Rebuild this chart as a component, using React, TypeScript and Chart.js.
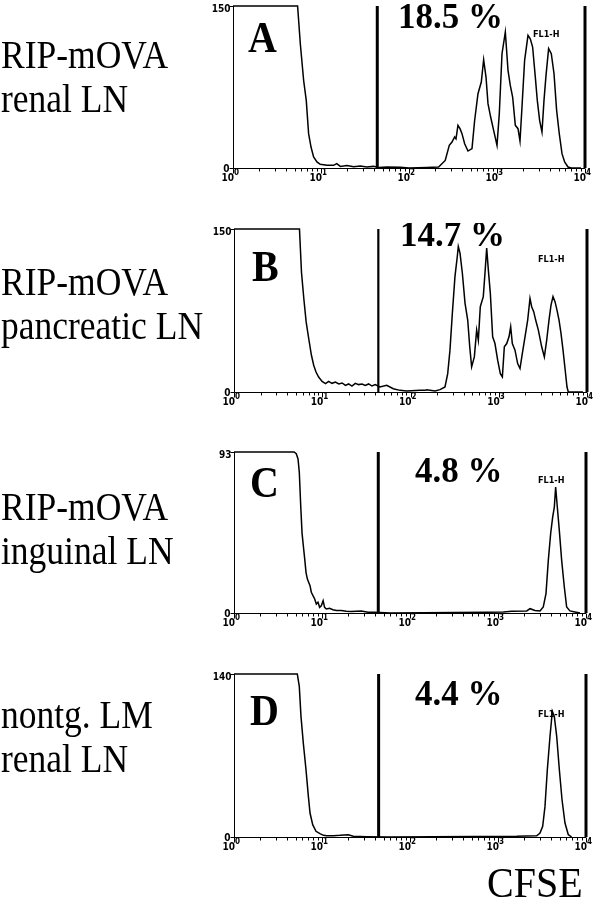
import React, { useEffect, useRef } from "react";
import { Chart, registerables } from "chart.js";

Chart.register(...registerables);

// ---------------- data ----------------
const rowLabels: string[][] = [
  ["RIP-mOVA", "renal LN"],
  ["RIP-mOVA", "pancreatic LN"],
  ["RIP-mOVA", "inguinal LN"],
  ["nontg. LM", "renal LN"],
];
const panelLetters = ["A", "B", "C", "D"];
const percentLabels = ["18.5 %", "14.7 %", "4.8 %", "4.4 %"];
const yMaxValues = [150, 150, 93, 140];
const gateValues = [43.6, 43.2, 43.6, 44];
const channelLabel = "FL1-H";
const axisTitle = "CFSE";
const decadeExponents = [0, 1, 2, 3, 4];
const xMin = 1;
const xMax = 10000;

// [CFSE channel value, cell count]
const histA: [number, number][] = [
  [1, 150], [5.42, 150], [5.82, 115], [6.35, 81], [6.8, 62.6], [7.23, 31.8], [7.7, 19.4],
  [8.24, 10.2], [9.0, 5.6], [9.8, 3.4], [11.7, 2.5], [13.9, 2.5], [15.1, 4], [16.6, 1.5],
  [19.7, 2.2], [23.5, 1.2], [28, 1.8], [33.1, 1], [39.6, 1.5], [45, 0.5], [56, 1], [79.6, 0.8],
  [100, 0], [160, 0.5], [217, 0.9], [258, 7], [287, 21], [308, 24], [330, 28.7], [342, 27],
  [360, 39.5], [380, 36.4], [400, 31.8], [429, 22.5], [468, 15.7], [520, 17.9], [557, 44],
  [608, 68.8], [663, 79.6], [705, 100.3], [750, 84.2], [790, 59.6], [847, 47.2], [916, 34.9],
  [1000, 21], [1062, 50.3], [1140, 105.8], [1243, 125.9], [1334, 90.4], [1416, 76.5],
  [1506, 65.7], [1615, 39.5], [1733, 36.4], [1825, 25], [1923, 56.5], [2060, 99.7],
  [2250, 122.8], [2390, 119.7], [2540, 112], [2725, 84.2], [2870, 62.6], [3050, 44.1],
  [3245, 33.3], [3420, 62.6], [3605, 85.8], [3860, 110.5], [4140, 105.8], [4445, 87.3],
  [4760, 53.4], [5100, 31.8], [5480, 13.3], [5870, 5.6], [6410, 0.9], [6995, 0], [9000, 0],
];

const histB: [number, number][] = [
  [1, 150], [5.52, 150], [5.82, 110], [6.18, 86], [6.57, 64.5], [7.03, 49], [7.54, 33.8],
  [8.0, 24.6], [8.5, 18.4], [9.1, 13.8], [9.96, 9.8], [10.9, 7.7], [11.8, 9.8], [12.9, 8],
  [14.1, 9.2], [15.4, 7.4], [16.8, 8.3], [18.3, 6.1], [19.9, 7.4], [21.7, 5.5], [23.7, 8],
  [25.8, 6.8], [28.2, 7.4], [30.7, 6.1], [33.5, 7.4], [36.6, 5.5], [39.9, 6.8], [45, 4.6],
  [53.8, 6.2], [63.8, 3], [76, 1.5], [90.5, 0.9], [128, 1.5], [146, 1.5], [152, 2],
  [190, 0.9], [216, 2.2], [246, 4.6], [264, 16.9], [280, 38.5], [298, 72.4], [319, 106.2],
  [339, 124.7], [348, 133.9], [364, 127.8], [387, 109.3], [415, 81.6], [445, 66.2],
  [469, 41.6], [493, 23.1], [529, 32.3], [562, 57], [587, 47.7], [618, 78.5], [668, 87.8],
  [698, 109.3], [730, 132.4], [762, 112.4], [803, 90.8], [853, 50.8], [906, 44.6],
  [972, 29.3], [1042, 16.9], [1099, 13.9], [1157, 41.6], [1231, 44.6], [1307, 50.8],
  [1365, 60], [1425, 44.6], [1528, 38.5], [1638, 26.2], [1741, 21.6], [1849, 35.4],
  [1984, 50.8], [2127, 66.2], [2260, 86.2], [2361, 78.5], [2489, 73.9], [2620, 66.2],
  [2810, 57], [3065, 41.6], [3287, 32.3], [3494, 47.7], [3710, 66.2], [3910, 80],
  [4120, 87.8], [4340, 83.1], [4570, 75.4], [4820, 66.2], [5075, 53.9], [5350, 38.5],
  [5635, 21.6], [5935, 4.6], [6140, 0], [9000, 0],
];

const histC: [number, number][] = [
  [1, 93], [4.81, 93], [5.1, 92], [5.34, 89], [5.52, 81.4], [5.73, 62], [5.93, 46.3],
  [6.13, 39], [6.36, 31.3], [6.58, 23.5], [6.81, 19.7], [7.05, 17.8], [7.31, 15.8],
  [7.56, 12], [7.9, 10], [8.26, 8.1], [8.62, 5.2], [9.0, 6.2], [9.4, 3.3], [9.82, 4.2],
  [10.3, 7.1], [10.7, 3.3], [11.2, 2.3], [12.2, 2.7], [13.3, 1.9], [14.6, 1.4], [16.6, 1.4],
  [18.9, 1], [21.5, 0.8], [28, 1.2], [33.3, 0.4], [39.8, 0.4], [60, 0], [744, 0.4],
  [1148, 0.6], [1430, 1], [2120, 1.2], [2313, 2.5], [2630, 1.5], [3000, 1.2], [3270, 3.5],
  [3510, 11.2], [3730, 30.4], [3965, 45.8], [4180, 55.4], [4365, 61.2], [4520, 72.8],
  [4720, 61.2], [4975, 47.7], [5290, 30.4], [5670, 15], [6025, 3.5], [6570, 1.2],
  [7490, 0.6], [8550, 0],
];

const histD: [number, number][] = [
  [1, 140], [5.24, 140], [5.52, 129.4], [5.77, 103.6], [6.13, 80.7], [6.58, 57.8],
  [7.0, 34.9], [7.31, 20.6], [7.84, 10.6], [8.55, 4.9], [9.48, 2.9], [10.4, 1.4],
  [11.3, 1.1], [13.5, 1.1], [16, 1.4], [19.9, 2], [22.7, 0.6], [32.2, 0.3], [60, 0],
  [1630, 0.6], [2755, 1.1], [3000, 3.4], [3220, 9.2], [3420, 26.3], [3635, 57.8],
  [3900, 86.5], [4145, 108], [4365, 103.6], [4645, 86.5], [4980, 57.8], [5340, 32],
  [5770, 12], [6295, 2], [6870, 0],
];

const histograms = [histA, histB, histC, histD];

// ---------------- layout (pixels) ----------------
type Layout = {
  canvasTop: number; height: number; left: number; right: number; top: number; bottom: number;
  labelBase: number[]; letter: number[]; pct: number[]; fl: number[]; gateWidth: number;
};
const layouts: Layout[] = [
  { canvasTop: 0, height: 223, left: 233, right: 585, top: 6, bottom: 168, labelBase: [68, 112], letter: [248, 52], pct: [398, 28], fl: [533, 37], gateWidth: 3 },
  { canvasTop: 223, height: 223, left: 234, right: 587, top: 229, bottom: 392, labelBase: [295, 339], letter: [252, 281], pct: [400, 246], fl: [538, 262], gateWidth: 2.2 },
  { canvasTop: 446, height: 222, left: 234, right: 586, top: 452, bottom: 613, labelBase: [520, 564], letter: [250, 497], pct: [415, 482], fl: [538, 483], gateWidth: 3 },
  { canvasTop: 668, height: 232, left: 234, right: 586, top: 674, bottom: 837, labelBase: [728, 772], letter: [250, 725], pct: [415, 705], fl: [538, 717], gateWidth: 3 },
];
const W = 606;
const SERIF = "'Liberation Serif', 'Times New Roman', serif";
const SMALL = "'DejaVu Sans Condensed', 'DejaVu Sans', sans-serif";

function fillStretched(ctx: CanvasRenderingContext2D, text: string, x: number, y: number, sy: number) {
  ctx.save();
  ctx.translate(x, y);
  ctx.scale(1, sy);
  ctx.fillText(text, 0, 0);
  ctx.restore();
}

function Panel({ idx }: { idx: number }) {
  const ref = useRef<HTMLCanvasElement | null>(null);
  const L = layouts[idx];

  useEffect(() => {
    if (!ref.current) return;
    const yMax = yMaxValues[idx];
    const gate = gateValues[idx];
    const isLast = idx === layouts.length - 1;

    const overlay = {
      id: "overlay" + idx,
      afterDraw(chart: any) {
        const { ctx, chartArea: a } = chart;
        const xs = chart.scales.x;
        const oy = L.canvasTop;
        ctx.save();
        ctx.strokeStyle = "#000";
        ctx.fillStyle = "#000";
        ctx.lineWidth = 1;
        // axes
        const bx = Math.round(a.left) + 0.5;
        const by = Math.round(a.bottom) + 0.5;
        ctx.beginPath();
        ctx.moveTo(bx, a.top);
        ctx.lineTo(bx, by);
        ctx.lineTo(a.right, by);
        ctx.stroke();
        // y ticks
        ctx.beginPath();
        ctx.moveTo(bx - 4, Math.round(a.top) + 0.5);
        ctx.lineTo(bx, Math.round(a.top) + 0.5);
        ctx.moveTo(bx - 4, by);
        ctx.lineTo(bx, by);
        ctx.stroke();
        // x ticks
        ctx.beginPath();
        for (let d = 0; d < 4; d++) {
          for (let m = 1; m <= 9; m++) {
            const v = m * Math.pow(10, d);
            const px = Math.round(xs.getPixelForValue(v)) + 0.5;
            const len = m === 1 ? 5 : 3;
            ctx.moveTo(px, by);
            ctx.lineTo(px, by + len);
          }
        }
        const pr = Math.round(xs.getPixelForValue(xMax)) + 0.5;
        ctx.moveTo(pr, by);
        ctx.lineTo(pr, by + 5);
        ctx.stroke();

        // y labels
        ctx.font = "bold 10px " + SMALL;
        ctx.textAlign = "right";
        ctx.textBaseline = "middle";
        ctx.fillText(String(yMax), bx - 3, a.top + 3);
        ctx.fillText("0", bx - 4, a.bottom + 1);

        // x labels 10^n
        decadeExponents.forEach((e) => {
          const px = xs.getPixelForValue(Math.pow(10, e));
          ctx.font = "bold 10px " + SMALL;
          ctx.textAlign = "right";
          ctx.textBaseline = "alphabetic";
          ctx.fillText("10", px + 1, a.bottom + 13);
          ctx.font = "bold 8px " + SMALL;
          ctx.textAlign = "left";
          ctx.fillText(String(e), px + 1, a.bottom + 7);
        });

        // channel label
        ctx.font = "bold 9px " + SMALL;
        ctx.textAlign = "left";
        ctx.textBaseline = "alphabetic";
        ctx.fillText(channelLabel, L.fl[0], L.fl[1] - oy);

        // panel letter
        ctx.font = "bold 40px " + SERIF;
        fillStretched(ctx, panelLetters[idx], L.letter[0], L.letter[1] - oy, 1.12);

        // percent
        ctx.font = "bold 35px " + SERIF;
        fillStretched(ctx, percentLabels[idx], L.pct[0], L.pct[1] - oy, 1.02);

        // row labels
        ctx.font = "35.5px " + SERIF;
        rowLabels[idx].forEach((t, i) => {
          fillStretched(ctx, t, 1, L.labelBase[i] - oy, 1.14);
        });

        if (isLast) {
          ctx.font = "40px " + SERIF;
          fillStretched(ctx, axisTitle, 487, 897 - oy, 1.05);
        }
        ctx.restore();
      },
    };

    const chart = new Chart(ref.current, {
      type: "line",
      data: {
        datasets: [
          {
            data: histograms[idx].map(([x, y]) => ({ x, y })),
            borderColor: "#000",
            borderWidth: 1.5,
            pointRadius: 0,
            tension: 0,
            fill: false,
            clip: 4,
          } as any,
          {
            data: [{ x: gate, y: 0 }, { x: gate, y: yMax }],
            borderColor: "#000",
            borderWidth: L.gateWidth,
            pointRadius: 0,
            fill: false,
            clip: 4,
          } as any,
          {
            data: [{ x: xMax, y: 0 }, { x: xMax, y: yMax }],
            borderColor: "#000",
            borderWidth: 3,
            pointRadius: 0,
            fill: false,
            clip: 4,
          } as any,
        ],
      },
      options: {
        animation: false,
        responsive: false,
        maintainAspectRatio: false,
        layout: {
          padding: {
            left: L.left,
            right: W - L.right,
            top: L.top - L.canvasTop,
            bottom: L.canvasTop + L.height - L.bottom,
          },
        },
        plugins: { legend: { display: false }, tooltip: { enabled: false }, title: { display: false } },
        scales: {
          x: { type: "logarithmic", min: xMin, max: xMax, display: false },
          y: { type: "linear", min: 0, max: yMax, display: false },
        },
      },
      plugins: [overlay],
    });
    return () => chart.destroy();
  }, [idx]);

  return (
    <canvas
      ref={ref}
      width={W}
      height={L.height}
      style={{ position: "absolute", left: 0, top: L.canvasTop, width: W, height: L.height, display: "block" }}
    />
  );
}

export default function App() {
  return (
    <div style={{ position: "absolute", left: 0, top: 0, width: W, height: 900, background: "#fff", overflow: "hidden" }}>
      {layouts.map((_, i) => (
        <Panel key={i} idx={i} />
      ))}
    </div>
  );
}
